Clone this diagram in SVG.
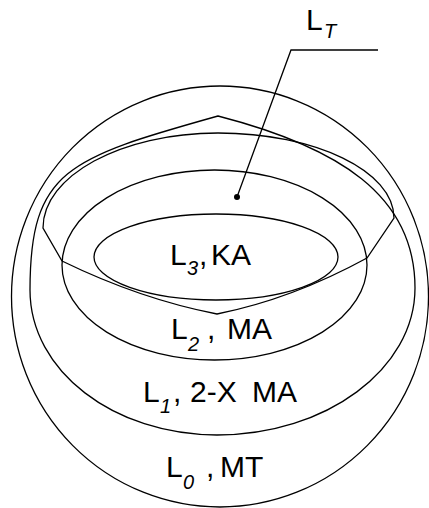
<svg xmlns="http://www.w3.org/2000/svg" width="429" height="508" viewBox="0 0 429 508">
<style>
.ln{fill:none;stroke:#000;stroke-width:1.3}
.t{font-family:"Liberation Sans",Arial,sans-serif;font-size:30px;fill:#000}
.s{font-family:"Liberation Sans",Arial,sans-serif;font-size:20px;font-style:italic;fill:#000}
</style>
<rect width="429" height="508" fill="#fff"/>
<g id="L0">
<ellipse class="ln" cx="220" cy="296.5" rx="208.5" ry="210.5"/>
<text class="t" x="166" y="477">L</text><text class="s" x="183" y="489">0</text><text class="t" x="206" y="477">,</text><text class="t" x="220" y="477">MT</text>
</g>
<g id="L1">
<path class="ln" d="M218,116 C68,158 30,170 30,290 C30,371 114,435 217,435 C326,435 415,369 415,288 C415,195 338,147 218,116 Z"/>
<text class="t" x="143" y="402">L</text><text class="s" x="160" y="413">1</text><text class="t" x="173" y="402">,</text><text class="t" x="190" y="402">2-X</text><text class="t" x="252" y="402">MA</text>
</g>
<g id="L2">
<ellipse class="ln" cx="214.5" cy="265" rx="152.5" ry="95"/>
<text class="t" x="171" y="339">L</text><text class="s" x="188" y="351">2</text><text class="t" x="207" y="339">,</text><text class="t" x="227" y="339">MA</text>
</g>
<g id="L3">
<ellipse class="ln" cx="216" cy="257" rx="122" ry="43"/>
<text class="t" x="170" y="265">L</text><text class="s" x="187" y="275">3</text><text class="t" x="199" y="265">,</text><text class="t" x="211" y="265">KA</text>
</g>
<g id="LT">
<path class="ln" d="M43,228 C43,176 121,133 218,133 C315,133 394,171 394,218 L367,258 Q292,299 217,314 Q140,299 62,261 Z"/>
<circle cx="237" cy="197" r="3" fill="#000"/>
</g>
<g id="LT-label">
<text class="t" x="306" y="30">L</text><text class="s" x="324" y="38">T</text>
</g>
<g id="connectors">
<polyline class="ln" points="237,197 291,50 378,50"/>
</g>
</svg>
